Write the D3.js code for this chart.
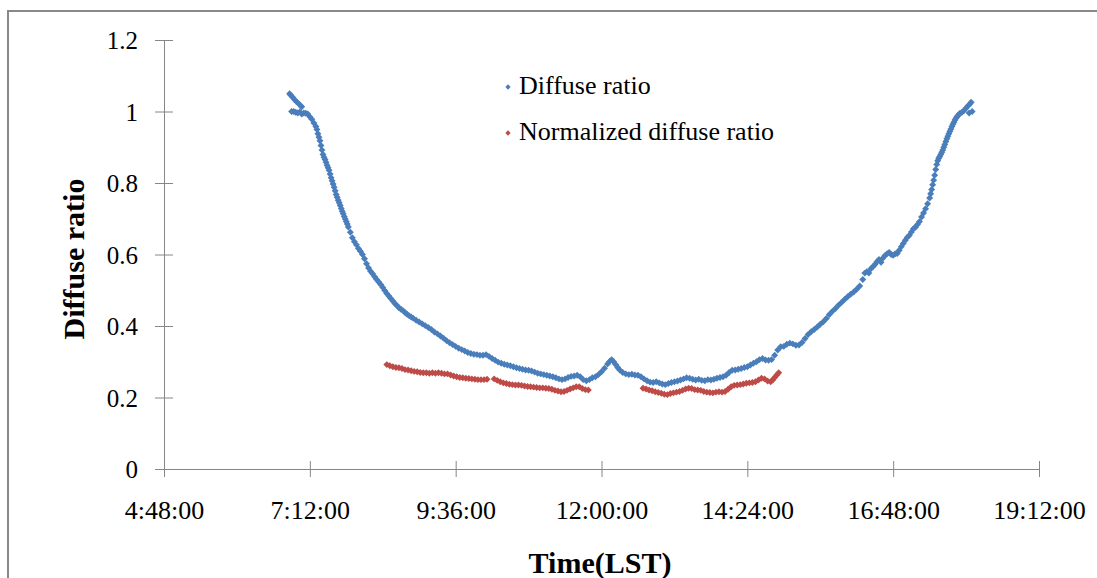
<!DOCTYPE html>
<html>
<head>
<meta charset="utf-8">
<script src="https://cdn.jsdelivr.net/npm/d3@7"></script>
<style>
  body { margin: 0; background: #fff; }
  svg text { font-family: "Liberation Serif", "Times New Roman", serif; fill: #000; }
</style>
</head>
<body>
<svg id="chart"></svg>
<script>
// Diffuse ratio as [local time, value]
const diffuseRatio = [
  ["6:52",1.050],["6:53",1.046],["6:55",1.040],["6:57",1.033],["6:59",1.027],["7:01",1.022],["7:03",1.016],["7:04",1.013],
  ["6:54",1.000],["6:56",1.000],["6:58",0.998],["7:00",0.996],["7:02",0.999],["7:04",0.993],["7:06",0.996],["7:08",0.995],
  ["7:10",0.993],["7:12",0.985],["7:14",0.978],["7:16",0.968],["7:18",0.958],["7:19",0.950],["7:20",0.938],["7:21",0.928],
  ["7:22",0.918],["7:23",0.905],["7:24",0.892],["7:25",0.880],["7:26",0.872],["7:27",0.866],["7:28",0.858],["7:29",0.850],
  ["7:30",0.843],["7:31",0.836],["7:32",0.825],["7:33",0.815],["7:34",0.806],["7:35",0.797],["7:36",0.788],["7:37",0.778],
  ["7:38",0.768],["7:39",0.760],["7:40",0.752],["7:41",0.745],["7:42",0.737],["7:43",0.729],["7:44",0.721],["7:45",0.714],
  ["7:46",0.706],["7:47",0.699],["7:48",0.692],["7:49",0.685],["7:50",0.677],["7:52",0.662],["7:54",0.647],["7:56",0.636],
  ["7:58",0.627],["8:00",0.617],["8:02",0.609],["8:04",0.600],["8:06",0.588],["8:08",0.574],["8:10",0.562],["8:12",0.553],
  ["8:14",0.546],["8:16",0.538],["8:18",0.530],["8:20",0.523],["8:22",0.516],["8:24",0.508],["8:26",0.499],["8:28",0.491],
  ["8:30",0.484],["8:32",0.477],["8:34",0.470],["8:36",0.463],["8:38",0.457],["8:40",0.451],["8:42",0.447],["8:44",0.443],
  ["8:46",0.438],["8:48",0.433],["8:50",0.429],["8:52",0.425],["8:54",0.422],["8:57",0.416],["9:00",0.411],["9:03",0.406],
  ["9:06",0.401],["9:09",0.396],["9:12",0.390],["9:15",0.383],["9:18",0.378],["9:21",0.372],["9:24",0.366],["9:27",0.359],
  ["9:30",0.353],["9:33",0.348],["9:36",0.343],["9:39",0.338],["9:42",0.334],["9:45",0.330],["9:48",0.326],["9:51",0.323],
  ["9:54",0.321],["9:57",0.320],["10:00",0.318],["10:03",0.318],["10:06",0.320],["10:09",0.315],["10:12",0.309],["10:15",0.304],
  ["10:18",0.299],["10:21",0.296],["10:24",0.293],["10:27",0.291],["10:30",0.289],["10:33",0.286],["10:36",0.283],["10:39",0.281],
  ["10:42",0.279],["10:45",0.277],["10:48",0.276],["10:51",0.274],["10:54",0.271],["10:57",0.268],["11:00",0.266],["11:03",0.264],
  ["11:06",0.262],["11:09",0.260],["11:12",0.258],["11:15",0.255],["11:18",0.252],["11:21",0.250],["11:24",0.252],["11:27",0.256],
  ["11:30",0.259],["11:33",0.260],["11:36",0.262],["11:39",0.258],["11:42",0.250],["11:45",0.247],["11:48",0.250],["11:51",0.255],
  ["11:54",0.258],["11:57",0.264],["12:00",0.272],["12:03",0.282],["12:06",0.294],["12:08",0.301],["12:10",0.306],["12:12",0.300],
  ["12:14",0.292],["12:16",0.284],["12:18",0.277],["12:21",0.270],["12:24",0.266],["12:27",0.264],["12:30",0.265],["12:33",0.263],
  ["12:36",0.262],["12:39",0.258],["12:42",0.252],["12:45",0.247],["12:48",0.243],["12:51",0.242],["12:54",0.244],["12:57",0.241],
  ["13:00",0.238],["13:03",0.236],["13:06",0.239],["13:09",0.242],["13:12",0.244],["13:15",0.246],["13:18",0.249],["13:21",0.252],
  ["13:24",0.255],["13:27",0.254],["13:30",0.251],["13:33",0.249],["13:36",0.251],["13:39",0.248],["13:42",0.247],["13:45",0.250],
  ["13:48",0.249],["13:51",0.251],["13:54",0.254],["13:57",0.256],["14:00",0.258],["14:03",0.262],["14:06",0.270],["14:09",0.276],
  ["14:12",0.277],["14:15",0.279],["14:18",0.281],["14:21",0.284],["14:24",0.286],["14:27",0.291],["14:30",0.296],["14:33",0.300],
  ["14:36",0.306],["14:39",0.309],["14:42",0.305],["14:45",0.304],["14:48",0.306],["14:51",0.318],["14:54",0.333],["14:57",0.342],
  ["15:00",0.343],["15:03",0.349],["15:06",0.352],["15:09",0.350],["15:12",0.346],["15:15",0.347],["15:18",0.354],["15:21",0.365],
  ["15:24",0.376],["15:27",0.384],["15:30",0.390],["15:33",0.397],["15:36",0.405],["15:39",0.412],["15:42",0.421],["15:45",0.432],
  ["15:48",0.441],["15:51",0.449],["15:54",0.458],["15:57",0.466],["16:00",0.474],["16:03",0.482],["16:06",0.489],["16:09",0.495],
  ["16:12",0.503],["16:15",0.512],["16:18",0.530],["16:20",0.548],["16:22",0.552],["16:24",0.548],["16:26",0.560],["16:28",0.566],
  ["16:30",0.572],["16:32",0.580],["16:34",0.586],["16:36",0.578],["16:38",0.590],["16:40",0.597],["16:42",0.602],["16:44",0.606],
  ["16:46",0.600],["16:48",0.598],["16:50",0.602],["16:52",0.603],["16:54",0.612],["16:56",0.622],["16:58",0.631],["17:00",0.640],
  ["17:02",0.648],["17:04",0.654],["17:06",0.663],["17:08",0.672],["17:10",0.676],["17:12",0.684],["17:14",0.692],["17:16",0.705],
  ["17:18",0.716],["17:20",0.728],["17:22",0.742],["17:24",0.758],["17:25",0.770],["17:26",0.782],["17:27",0.795],["17:28",0.808],
  ["17:29",0.822],["17:30",0.838],["17:31",0.852],["17:32",0.862],["17:33",0.869],["17:34",0.874],["17:35",0.880],["17:36",0.886],
  ["17:37",0.892],["17:38",0.900],["17:39",0.908],["17:40",0.916],["17:41",0.924],["17:42",0.931],["17:43",0.938],["17:44",0.945],
  ["17:45",0.951],["17:46",0.958],["17:47",0.964],["17:48",0.970],["17:49",0.976],["17:50",0.981],["17:51",0.985],["17:52",0.989],
  ["17:53",0.992],["17:54",0.995],["17:56",0.998],["17:58",1.003],["18:00",1.010],["18:02",1.016],["18:04",1.022],["18:05",1.026],
  ["18:03",0.996],["18:06",1.000]
];

// Normalized diffuse ratio (three runs with gaps between them)
const normalizedRatio = [
  ["8:28",0.292],["8:31",0.289],["8:34",0.286],["8:37",0.284],["8:40",0.283],["8:43",0.281],["8:46",0.278],["8:49",0.277],
  ["8:52",0.275],["8:55",0.273],["8:58",0.272],["9:01",0.270],["9:04",0.269],["9:07",0.269],["9:10",0.268],["9:13",0.269],
  ["9:16",0.268],["9:19",0.269],["9:22",0.268],["9:25",0.266],["9:28",0.266],["9:31",0.263],["9:34",0.260],["9:37",0.258],
  ["9:40",0.256],["9:43",0.255],["9:46",0.254],["9:49",0.253],["9:52",0.252],["9:55",0.251],["9:58",0.250],["10:01",0.250],
  ["10:04",0.250],["10:07",0.251],
  ["10:14",0.252],["10:17",0.248],["10:20",0.244],["10:23",0.241],["10:26",0.239],["10:29",0.237],["10:32",0.236],["10:35",0.235],
  ["10:38",0.235],["10:41",0.234],["10:44",0.232],["10:47",0.231],["10:50",0.230],["10:53",0.229],["10:56",0.228],["10:59",0.227],
  ["11:02",0.227],["11:05",0.226],["11:08",0.225],["11:11",0.223],["11:14",0.220],["11:17",0.218],["11:20",0.216],["11:23",0.217],
  ["11:26",0.220],["11:29",0.224],["11:32",0.227],["11:35",0.230],["11:38",0.230],["11:41",0.225],["11:44",0.222],["11:47",0.221],
  ["12:41",0.226],["12:44",0.224],["12:47",0.221],["12:50",0.219],["12:53",0.216],["12:56",0.214],["12:59",0.212],["13:02",0.209],
  ["13:05",0.208],["13:08",0.211],["13:11",0.213],["13:14",0.215],["13:17",0.217],["13:20",0.220],["13:23",0.224],["13:26",0.226],
  ["13:29",0.225],["13:32",0.222],["13:35",0.221],["13:38",0.220],["13:41",0.217],["13:44",0.215],["13:47",0.214],["13:50",0.213],
  ["13:53",0.215],["13:56",0.216],["13:59",0.215],["14:02",0.217],["14:05",0.223],["14:08",0.230],["14:11",0.234],["14:14",0.235],
  ["14:17",0.236],["14:20",0.238],["14:23",0.240],["14:26",0.241],["14:29",0.242],["14:32",0.244],["14:35",0.249],["14:38",0.254],
  ["14:41",0.252],["14:44",0.246],["14:47",0.244],["14:49",0.249],["14:51",0.256],["14:53",0.263],["14:55",0.269]
];

const xTickLabels = ["4:48:00", "7:12:00", "9:36:00", "12:00:00", "14:24:00", "16:48:00", "19:12:00"];
const yTickValues = [0, 0.2, 0.4, 0.6, 0.8, 1, 1.2];
const seriesNames = ["Diffuse ratio", "Normalized diffuse ratio"];
const seriesColors = ["#4A7EBB", "#BE4B48"];

const width = 1097;
const height = 578;

// "H:MM" or "H:MM:SS" -> minutes after midnight
const toMinutes = s => {
  const p = s.split(":").map(Number);
  return p[0] * 60 + p[1] + (p[2] || 0) / 60;
};

const svg = d3.select("#chart")
  .attr("width", width)
  .attr("height", height);

// outer chart frame (runs off the right and bottom edges)
svg.append("rect")
  .attr("x", 8).attr("y", 11)
  .attr("width", 1200).attr("height", 700)
  .attr("fill", "none")
  .attr("stroke", "#898989")
  .attr("stroke-width", 2);

const x = d3.scaleLinear()
  .domain([toMinutes(xTickLabels[0]), toMinutes(xTickLabels[xTickLabels.length - 1])])
  .range([164, 1039]);

const y = d3.scaleLinear()
  .domain([0, 1.2])
  .range([469, 40]);

const axisColor = "#868686";

// y axis
const yAxis = svg.append("g")
  .attr("transform", `translate(${x.range()[0]},0)`)
  .call(d3.axisLeft(y).tickValues(yTickValues).tickFormat(d => String(d)).tickSize(9));
yAxis.select(".domain").attr("stroke", axisColor);
yAxis.selectAll(".tick line").attr("stroke", axisColor).attr("x1", 9).attr("x2", -9);
yAxis.selectAll(".tick text")
  .attr("x", -26).attr("dy", "0.34em")
  .style("font-size", "25px");

// x axis
const xAxis = svg.append("g")
  .attr("transform", `translate(0,${y(0)})`)
  .call(d3.axisBottom(x).tickValues(xTickLabels.map(toMinutes)).tickFormat((d, i) => xTickLabels[i]).tickSize(8));
xAxis.select(".domain").attr("stroke", axisColor);
xAxis.selectAll(".tick line").attr("stroke", axisColor).attr("y1", -8).attr("y2", 8);
xAxis.selectAll(".tick text")
  .attr("y", 50).attr("dy", "0")
  .style("font-size", "26px");

// markers: small diamonds like the spreadsheet's
const diamond = d3.symbol().type(d3.symbolSquare).size(24);

function drawSeries(data, color) {
  svg.append("g")
    .selectAll("path")
    .data(data)
    .join("path")
    .attr("d", diamond)
    .attr("fill", color)
    .attr("transform", d => `translate(${x(toMinutes(d[0]))},${y(d[1])}) rotate(45)`);
}
drawSeries(diffuseRatio, seriesColors[0]);
drawSeries(normalizedRatio, seriesColors[1]);

// axis titles
svg.append("text")
  .attr("x", 600).attr("y", 573)
  .attr("text-anchor", "middle")
  .style("font-size", "30px").style("font-weight", "bold")
  .text("Time(LST)");

svg.append("text")
  .attr("transform", "translate(84,259) rotate(-90)")
  .attr("text-anchor", "middle")
  .style("font-size", "30px").style("font-weight", "bold")
  .text("Diffuse ratio");

// legend
const legend = svg.append("g");
seriesNames.forEach((name, i) => {
  const ly = 87 + i * 46;
  legend.append("path")
    .attr("d", d3.symbol().type(d3.symbolSquare).size(14))
    .attr("fill", seriesColors[i])
    .attr("transform", `translate(508,${ly}) rotate(45)`);
  legend.append("text")
    .attr("x", 519).attr("y", ly + 7)
    .style("font-size", "26px")
    .text(name);
});
</script>
</body>
</html>
